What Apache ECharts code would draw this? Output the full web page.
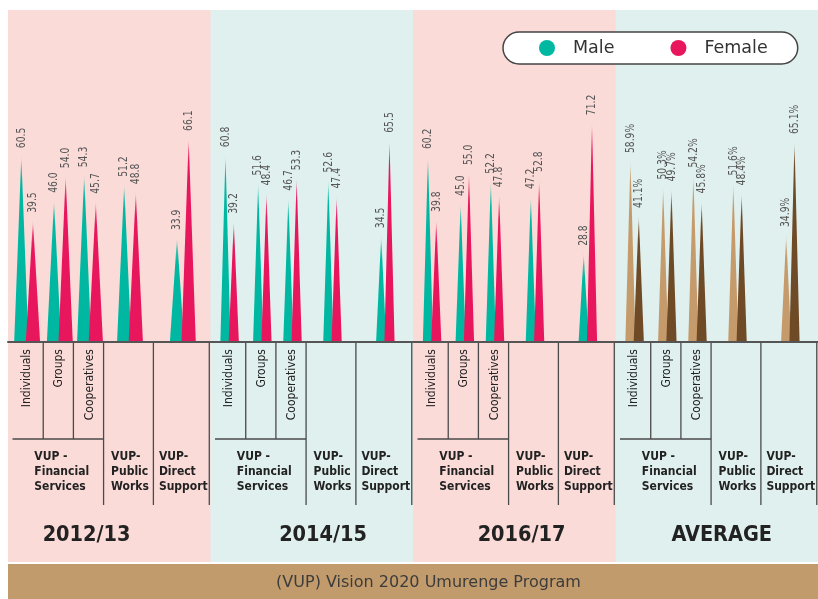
<!DOCTYPE html>
<html>
<head>
<meta charset="utf-8">
<title>VUP participation by sex</title>
<script src="https://cdn.jsdelivr.net/npm/echarts@6/dist/echarts.min.js"></script>
<style>
  html, body { margin: 0; padding: 0; background: #ffffff; }
  #chart { width: 818px; height: 599px; }
</style>
</head>
<body>
<div id="chart"></div>
<script>
// ---- data: share of participants (%) by sex, per programme and period ----
const periods = ['2012/13', '2014/15', '2016/17', 'AVERAGE'];
const programmes = ['Individuals', 'Groups', 'Cooperatives', 'Public Works', 'Direct Support'];
const programmeGroups = ['VUP -\nFinancial\nServices', 'VUP-\nPublic\nWorks', 'VUP-\nDirect\nSupport'];

const male_2012_13   = [60.5, 46.0, 54.3, 51.2, 33.9];
const female_2012_13 = [39.5, 54.0, 45.7, 48.8, 66.1];
const male_2014_15   = [60.8, 51.6, 46.7, 52.6, 34.5];
const female_2014_15 = [39.2, 48.4, 53.3, 47.4, 65.5];
const male_2016_17   = [60.2, 45.0, 52.2, 47.2, 28.8];
const female_2016_17 = [39.8, 55.0, 47.8, 52.8, 71.2];
const male_average   = [58.9, 50.3, 54.2, 51.6, 34.9];
const female_average = [41.1, 49.7, 45.8, 48.4, 65.1];

const footerText = '(VUP) Vision 2020 Umurenge Program';

// ---- layout & style ----
const FONT = "'DejaVu Sans Condensed', 'DejaVu Sans', sans-serif";
const PANEL_FILL = ['#fadbd8', '#dff0ee'];
const PANEL_TOP = 10, PANEL_BOTTOM = 562;
// column edges inside one period band, as fractions of the band width
const CELL_EDGES = [0, 0.174, 0.323, 0.472, 0.718, 0.994];
const PAIR_NUDGE = 1.5;
const HALF_GAP = 4.15, HALF_BASE = 5.1;
const PANEL_SPREAD = [1.4, 1, 1, 1];
const SUB_DEPTH = 97, TABLE_DEPTH = 163;
const YEAR_NUDGE = [-22.7, 11.3, 7.3, 5];
const LINE_COLOR = '#4a4a4a';
const SPIKE_COLORS = [['#00b8a2', '#e8175d'], ['#c69b6c', '#6f4a27']];

const maleByPeriod = [male_2012_13, male_2014_15, male_2016_17, male_average];
const femaleByPeriod = [female_2012_13, female_2014_15, female_2016_17, female_average];

function toPoints(table) {
  const out = [];
  table.forEach((row, p) => row.forEach((v, k) => out.push([p, v, k])));
  return out;
}

function rgba(hex, a) {
  const n = parseInt(hex.slice(1), 16);
  return 'rgba(' + ((n >> 16) & 255) + ',' + ((n >> 8) & 255) + ',' + (n & 255) + ',' + a + ')';
}

function vline(x, y1, y2) {
  return { type: 'line', shape: { x1: x, y1: y1, x2: x, y2: y2 }, style: { stroke: LINE_COLOR, lineWidth: 1.3 } };
}
function hline(x1, x2, y) {
  return { type: 'line', shape: { x1: x1, y1: y, x2: x2, y2: y }, style: { stroke: LINE_COLOR, lineWidth: 1.3 } };
}

// background band, column rules and headings for one period
function renderPanel(params, api) {
  const p = api.value(0);
  const base = api.coord([p, 0]);
  const band = api.size([1, 0])[0];
  const x0 = base[0] - band / 2;
  const y0 = base[1];
  const at = f => x0 + f * band;
  const mid = k => at((CELL_EDGES[k] + CELL_EDGES[k + 1]) / 2);
  const children = [];

  children.push({
    type: 'rect',
    shape: { x: x0, y: PANEL_TOP, width: band + 0.6, height: PANEL_BOTTOM - PANEL_TOP },
    style: { fill: PANEL_FILL[p % 2] }
  });

  [1, 2].forEach(k => children.push(vline(at(CELL_EDGES[k]), y0, y0 + SUB_DEPTH)));
  [3, 4, 5].forEach(k => children.push(vline(at(CELL_EDGES[k]), y0, y0 + TABLE_DEPTH)));
  children.push(hline(x0 + 4.5, at(CELL_EDGES[3]), y0 + SUB_DEPTH));

  [0, 1, 2].forEach(k => children.push({
    type: 'text',
    x: mid(k) + 1, y: y0 + 7,
    rotation: Math.PI / 2,
    style: { text: programmes[k], fill: '#222', font: '12px ' + FONT, align: 'right', verticalAlign: 'middle' }
  }));

  const groupX = [x0 + 0.13 * band, at(CELL_EDGES[3]) + 7.5, at(CELL_EDGES[4]) + 5.5];
  programmeGroups.forEach((t, i) => children.push({
    type: 'text',
    x: groupX[i], y: y0 + 129.7,
    style: { text: t, fill: '#222', font: 'bold 12px ' + FONT, lineHeight: 15, align: 'left', verticalAlign: 'middle' }
  }));

  children.push({
    type: 'text',
    x: base[0] + YEAR_NUDGE[p], y: y0 + 193,
    style: { text: periods[p], fill: '#222', font: 'bold 21.5px ' + FONT, align: 'center', verticalAlign: 'middle' }
  });

  return { type: 'group', children: children };
}

// one triangular spike with its rotated value label
function renderSpike(side) {
  return function (params, api) {
    const p = api.value(0), v = api.value(1), k = api.value(2);
    const base = api.coord([p, 0]);
    const tip = api.coord([p, v]);
    const band = api.size([1, 0])[0];
    const x0 = base[0] - band / 2;
    const cx = x0 + (CELL_EDGES[k] + CELL_EDGES[k + 1]) / 2 * band + PAIR_NUDGE;
    const spread = PANEL_SPREAD[p];
    const ax = cx + (side ? 1 : -1) * HALF_GAP * spread;
    const hw = HALF_BASE * spread;
    const h = base[1] - tip[1];
    const color = SPIKE_COLORS[p === 3 ? 1 : 0][side];
    const f = Math.min(0.4, 12 / h);
    const label = v.toFixed(1) + (p === 3 ? '%' : '');
    return {
      type: 'group',
      children: [
        {
          type: 'polygon',
          shape: { points: [[ax - hw, base[1]], [ax, tip[1]], [ax + hw, base[1]]] },
          style: {
            fill: {
              type: 'linear', x: 0, y: 0, x2: 0, y2: 1,
              colorStops: [
                { offset: 0, color: rgba(color, 0.05) },
                { offset: f, color: rgba(color, 0.75) },
                { offset: Math.min(1, f * 2), color: color },
                { offset: 1, color: color }
              ]
            }
          }
        },
        {
          type: 'text',
          x: ax, y: tip[1] - 7.5,
          rotation: Math.PI / 2,
          scaleX: 0.82,
          style: { text: label, fill: '#555', font: '12.5px ' + FONT, align: 'left', verticalAlign: 'middle' }
        }
      ]
    };
  };
}

const chart = echarts.init(document.getElementById('chart'));

chart.setOption({
  animation: false,
  grid: { left: 8, width: 4 * 203.4, top: 34, bottom: 257 },
  xAxis: {
    type: 'category',
    data: periods,
    z: 10,
    axisLine: { lineStyle: { color: '#555', width: 2 } },
    axisTick: { show: false },
    axisLabel: { show: false },
    splitLine: { show: false }
  },
  yAxis: { type: 'value', min: 0, max: 100, show: false },
  legend: {
    data: [{ name: 'Male', icon: 'circle' }, { name: 'Female', icon: 'circle' }],
    left: 503, top: 32,
    itemWidth: 16, itemHeight: 16, itemGap: 56,
    padding: [7, 30, 7, 36],
    backgroundColor: '#ffffff',
    borderColor: '#444',
    borderWidth: 1.5,
    borderRadius: 16,
    selectedMode: false,
    textStyle: { fontSize: 17.5, color: '#333', fontFamily: "'DejaVu Sans', sans-serif", padding: [0, 0, 0, 13], lineHeight: 18 }
  },
  graphic: [
    { type: 'rect', shape: { x: 8, y: 564, width: 810, height: 35 }, style: { fill: '#c29b6c' } },
    {
      type: 'text', x: 428.5, y: 583,
      style: { text: footerText, fontSize: 16, fontFamily: "'DejaVu Sans', sans-serif", fill: '#3c3c3c', align: 'center', verticalAlign: 'middle' }
    }
  ],
  series: [
    {
      type: 'custom', name: 'panels', z: 1, silent: true,
      data: periods.map((_, i) => [i, 0]),
      encode: { x: 0, y: 1 },
      renderItem: renderPanel
    },
    {
      type: 'custom', name: 'Male', z: 3, silent: true,
      itemStyle: { color: SPIKE_COLORS[0][0] },
      data: toPoints(maleByPeriod),
      encode: { x: 0, y: 1 },
      renderItem: renderSpike(0)
    },
    {
      type: 'custom', name: 'Female', z: 4, silent: true,
      itemStyle: { color: SPIKE_COLORS[0][1] },
      data: toPoints(femaleByPeriod),
      encode: { x: 0, y: 1 },
      renderItem: renderSpike(1)
    }
  ]
});
</script>
</body>
</html>
